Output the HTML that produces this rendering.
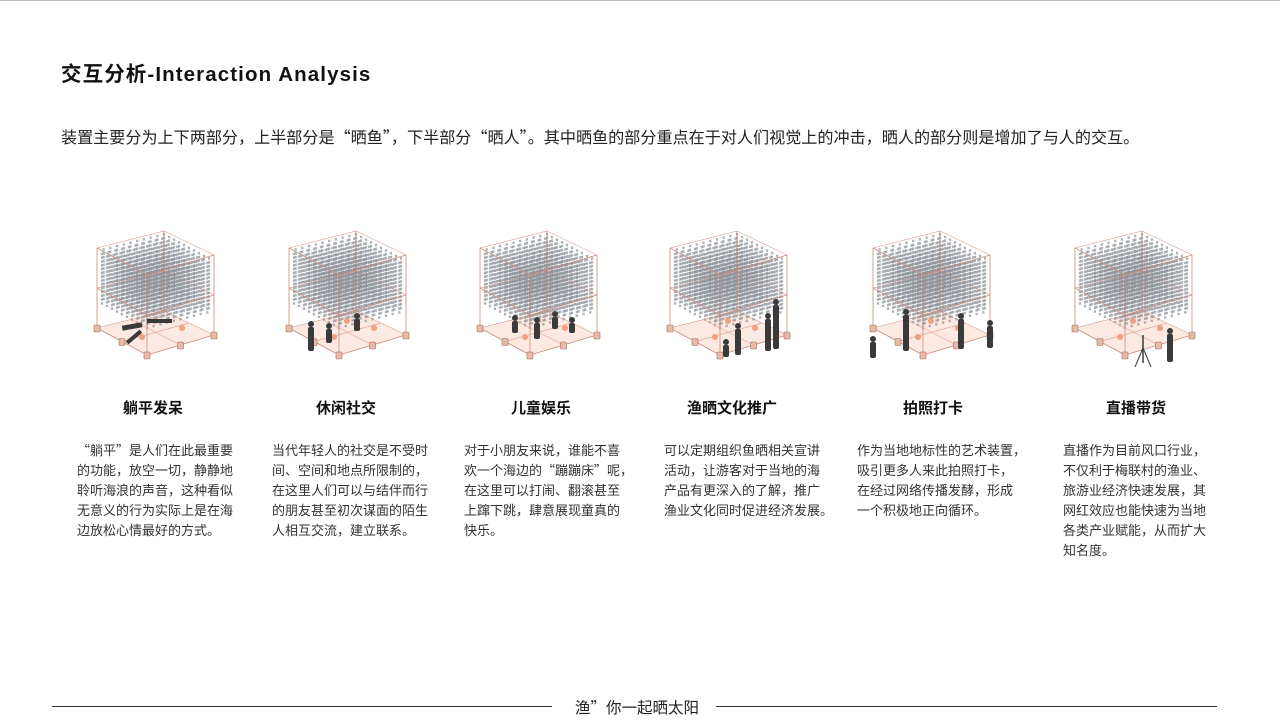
<!DOCTYPE html>
<html><head><meta charset="utf-8">
<style>
body{margin:0;background:#fff;}
#p{position:relative;width:1280px;height:721px;overflow:hidden;font-family:"Liberation Sans","Noto Sans CJK SC",sans-serif;color:#222;}
.t{position:absolute;white-space:nowrap;}
.c{font-family:"Noto Sans CJK SC",sans-serif;}
.h{position:absolute;top:397px;font-size:15px;font-weight:bold;width:160px;text-align:center;color:#111;font-family:"Noto Sans CJK SC",sans-serif;}
.d{position:absolute;top:440px;font-size:13px;line-height:20px;color:#333;white-space:nowrap;font-family:"Noto Sans CJK SC",sans-serif;}
svg{position:absolute;left:0;top:0;}
</style></head><body>
<div id="p">
<div style="position:absolute;left:0;top:0;width:1280px;height:1px;background:#bbb"></div>
<div class="t" style="left:61px;top:57px;font-size:20.5px;font-weight:bold;color:#111;letter-spacing:1.1px"><span class="c">交互分析</span>-Interaction Analysis</div>
<div class="t c" style="left:61px;top:124px;font-size:16.1px;color:#222">装置主要分为上下两部分，上半部分是“晒鱼”，下半部分“晒人”。其中晒鱼的部分重点在于对人们视觉上的冲击，晒人的部分则是增加了与人的交互。</div>
<svg id="s" width="1280" height="721"></svg>
<div class="h" style="left:73px">躺平发呆</div>
<div class="h" style="left:266px">休闲社交</div>
<div class="h" style="left:461px">儿童娱乐</div>
<div class="h" style="left:652px">渔晒文化推广</div>
<div class="h" style="left:853px">拍照打卡</div>
<div class="h" style="left:1056px">直播带货</div>
<div class="d" style="left:77px">“躺平”是人们在此最重要<br>的功能，放空一切，静静地<br>聆听海浪的声音，这种看似<br>无意义的行为实际上是在海<br>边放松心情最好的方式。</div>
<div class="d" style="left:272px">当代年轻人的社交是不受时<br>间、空间和地点所限制的，<br>在这里人们可以与结伴而行<br>的朋友甚至初次谋面的陌生<br>人相互交流，建立联系。</div>
<div class="d" style="left:464px">对于小朋友来说，谁能不喜<br>欢一个海边的“蹦蹦床”呢，<br>在这里可以打闹、翻滚甚至<br>上蹿下跳，肆意展现童真的<br>快乐。</div>
<div class="d" style="left:664px">可以定期组织鱼晒相关宣讲<br>活动，让游客对于当地的海<br>产品有更深入的了解，推广<br>渔业文化同时促进经济发展。</div>
<div class="d" style="left:857px">作为当地地标性的艺术装置，<br>吸引更多人来此拍照打卡，<br>在经过网络传播发酵，形成<br>一个积极地正向循环。</div>
<div class="d" style="left:1063px">直播作为目前风口行业，<br>不仅利于梅联村的渔业、<br>旅游业经济快速发展，其<br>网红效应也能快速为当地<br>各类产业赋能，从而扩大<br>知名度。</div>
<div style="position:absolute;left:52px;top:706px;width:500px;height:1px;background:#333"></div>
<div style="position:absolute;left:716px;top:706px;width:501px;height:1px;background:#333"></div>
<div class="t c" style="left:575px;top:696px;font-size:15.5px;color:#222">渔”你一起晒太阳</div>
</div>
<script>
var s=document.getElementById('s'),h='';
var xs=[97,289,480,670,873,1075];
function L(a,b,c,d,col,w){return '<line x1="'+a+'" y1="'+b+'" x2="'+c+'" y2="'+d+'" stroke="'+col+'" stroke-width="'+(w||1)+'"/>';}
xs.forEach(function(x0,k){
 var y0=231;
 var A=[x0,y0+17],B=[x0+67,y0],C=[x0+117,y0+24],D=[x0+50,y0+44];
 var H=80,M=40,g='';
 g+='<polygon points="'+A[0]+','+(A[1]+H)+' '+B[0]+','+(B[1]+H)+' '+C[0]+','+(C[1]+H)+' '+D[0]+','+(D[1]+H)+'" fill="#fbe3da" opacity="0.8"/>';
 var n=10;
 for(var j=n;j>=0;j--)for(var i=0;i<=n;i++){
  var px=A[0]+(i/n)*(D[0]-A[0])+(j/n)*(B[0]-A[0]);
  var py=A[1]+(i/n)*(D[1]-A[1])+(j/n)*(B[1]-A[1])+2;
  if(px<x0+3||px>x0+114)continue;
  g+='<line x1="'+px.toFixed(1)+'" y1="'+py.toFixed(1)+'" x2="'+px.toFixed(1)+'" y2="'+(py+52).toFixed(1)+'" stroke="#8d9299" stroke-width="2.3" stroke-dasharray="2.5 1.3" opacity="0.7"/>';
 }
 var col='#c98a78';
 [0,M,H].forEach(function(o){
  g+=L(A[0],A[1]+o,D[0],D[1]+o,col,0.8)+L(D[0],D[1]+o,C[0],C[1]+o,col,0.8)+L(A[0],A[1]+o,B[0],B[1]+o,col,0.5)+L(B[0],B[1]+o,C[0],C[1]+o,col,0.5);
 });
 [A,B,C,D].forEach(function(P){g+=L(P[0],P[1],P[0],P[1]+H,col,0.8);});
 g+=L((A[0]+D[0])/2,(A[1]+D[1])/2+H,(B[0]+C[0])/2,(B[1]+C[1])/2+H,'#e3a898',0.7);
 g+=L((A[0]+B[0])/2,(A[1]+B[1])/2+H,(D[0]+C[0])/2,(D[1]+C[1])/2+H,'#e3a898',0.7);
 [A,C,D,[(A[0]+D[0])/2,(A[1]+D[1])/2],[(C[0]+D[0])/2,(C[1]+D[1])/2]].forEach(function(P){g+='<rect x="'+(P[0]-3)+'" y="'+(P[1]+H-3)+'" width="6" height="7" rx="1" fill="#e8b9a6" stroke="#a07060" stroke-width="0.6"/>';});
 g+='<circle cx="'+(x0+58)+'" cy="'+(y0+90)+'" r="3" fill="#f0a080"/><circle cx="'+(x0+45)+'" cy="'+(y0+106)+'" r="3" fill="#f0a080"/><circle cx="'+(x0+85)+'" cy="'+(y0+97)+'" r="3" fill="#f0a080"/>';
 var f='#3a3a3a';
 var fig=function(cx,by,hh){return '<rect x="'+(cx-3)+'" y="'+(by-hh)+'" width="6" height="'+hh+'" rx="2" fill="'+f+'"/><circle cx="'+cx+'" cy="'+(by-hh-3)+'" r="3" fill="'+f+'"/>';};
 if(k==0){g+='<rect x="'+(x0+25)+'" y="'+(y0+93)+'" width="20" height="5" fill="'+f+'" transform="rotate(-10 '+(x0+35)+' '+(y0+95)+')"/><rect x="'+(x0+50)+'" y="'+(y0+88)+'" width="25" height="4" fill="'+f+'"/><rect x="'+(x0+28)+'" y="'+(y0+104)+'" width="18" height="4" fill="'+f+'" transform="rotate(-40 '+(x0+37)+' '+(y0+106)+')"/>';}
 if(k==1){g+=fig(x0+22,y0+120,24)+fig(x0+40,y0+112,14)+fig(x0+68,y0+100,12);}
 if(k==2){g+=fig(x0+35,y0+102,12)+fig(x0+57,y0+108,16)+fig(x0+75,y0+98,12)+fig(x0+92,y0+102,10);}
 if(k==3){g+=fig(x0+68,y0+124,26)+fig(x0+106,y0+118,44)+fig(x0+98,y0+120,32)+fig(x0+56,y0+126,12);}
 if(k==4){g+=fig(x0,y0+127,16)+fig(x0+33,y0+120,36)+fig(x0+88,y0+118,30)+fig(x0+117,y0+117,22);}
 if(k==5){g+=fig(x0+95,y0+131,28)+'<line x1="'+(x0+68)+'" y1="'+(y0+104)+'" x2="'+(x0+68)+'" y2="'+(y0+132)+'" stroke="'+f+'" stroke-width="1.5"/><line x1="'+(x0+68)+'" y1="'+(y0+117)+'" x2="'+(x0+60)+'" y2="'+(y0+136)+'" stroke="'+f+'"/><line x1="'+(x0+68)+'" y1="'+(y0+117)+'" x2="'+(x0+76)+'" y2="'+(y0+136)+'" stroke="'+f+'"/>';}
 h+=g;
});
s.innerHTML=h;
</script>
</body></html>
